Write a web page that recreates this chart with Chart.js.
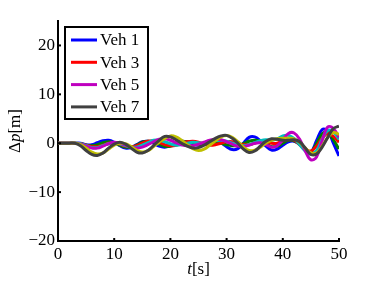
<!DOCTYPE html>
<html>
<head>
<meta charset="utf-8">
<script src="https://cdn.jsdelivr.net/npm/chart.js@4"></script>
<style>
  html, body { margin: 0; padding: 0; background: #fff; }
  #wrap { width: 374px; height: 281px; }
</style>
</head>
<body>
<div id="wrap"><canvas id="spacing"></canvas></div>
<script>
// time stamps [s]
const times = [0,1,2,3,4,5,6,7,8,9,10,11,12,13,14,15,16,17,18,19,20,21,22,23,24,25,
  26,27,28,29,30,31,32,33,34,35,36,37,38,39,40,41,42,43,44,45,46,47,48,49,50];

// spacing error per vehicle [m]
const veh1 = [0,0,0,0,0,-0.3,-0.3,0.1,0.5,0.6,0.2,-0.5,-1.0,-0.9,-0.3,0.3,0.4,0,-0.6,-0.8,
  -0.5,0,0.4,0.3,-0.1,-0.4,0,0.5,0.6,0.1,-0.7,-1.3,-1.1,0,1.2,1.3,0.5,-0.6,-1.4,-1.2,
  -0.4,0.3,0.4,-0.2,-1.2,-1.8,0.5,2.8,2.5,0,-2.6];
const veh2 = [0,0,0,0,-0.1,-0.4,-0.5,-0.3,0.1,0.3,0.1,-0.4,-0.8,-0.8,-0.4,0.2,0.4,0.3,-0.2,-0.6,
  -0.6,-0.2,0.2,0.3,0.1,-0.2,-0.1,0.1,0.2,0,-0.3,-0.5,-0.5,-0.1,0.4,0.6,0.4,-0.1,-0.7,-0.6,
  0,0.6,0.5,-0.2,-1.2,-1.7,-0.1,1.9,2.3,0.7,-1.2];
const veh3 = [0,0,0,0,-0.1,-0.4,-0.7,-0.7,-0.4,0,0.1,-0.2,-0.6,-0.7,-0.5,0,0.4,0.5,0.2,-0.3,
  -0.5,-0.4,0,0.3,0.4,0.2,-0.2,-0.4,-0.3,0,0.3,0.3,0,-0.3,-0.3,0,0.3,0.3,0,0,
  0.5,0.9,0.6,-0.3,-1.3,-1.6,-0.6,1.0,2.0,1.4,0.2];
const veh4 = [0,0,0,0,-0.1,-0.5,-0.9,-0.9,-0.5,-0.1,0.1,-0.1,-0.5,-0.8,-0.8,-0.4,0.1,0.6,0.6,0.3,
  -0.1,-0.4,-0.3,0,0.2,0.1,0,0.2,0.5,0.6,0.4,0,-0.4,-0.5,-0.3,0.1,0.5,0.7,0.6,0.9,
  1.5,1.6,1.0,-0.3,-1.6,-2.3,-1.5,0.8,2.6,2.3,0.8];
const veh5 = [0,0,0,0,-0.2,-0.6,-1.0,-1.0,-0.6,-0.1,0.2,0,-0.4,-0.8,-1.0,-0.8,-0.3,0.3,0.8,0.9,
  0.6,0.1,-0.3,-0.5,-0.5,-0.2,0.2,0.6,0.8,0.7,0.3,-0.2,-0.6,-0.7,-0.4,0,0.1,-0.3,-0.8,-0.5,
  0.7,2.0,2.1,0.8,-1.6,-3.4,-2.8,0.5,3.3,3.0,1.2];
const veh6 = [0,0,0,0,-0.3,-1.0,-1.8,-2.2,-2.0,-1.2,-0.4,0,-0.1,-0.7,-1.4,-1.8,-1.5,-0.7,0.2,1.0,
  1.5,1.3,0.6,-0.3,-1.1,-1.5,-1.2,-0.4,0.5,1.3,1.6,1.2,0.3,-0.8,-1.5,-1.4,-0.8,0,0.6,0.9,
  1.0,1.0,0.9,0.2,-1.0,-2.0,-2.0,-0.6,1.2,2.2,1.8];
const veh7 = [0,0,0,0,-0.5,-1.5,-2.3,-2.5,-2.0,-1.0,-0.2,0.2,-0.2,-1.0,-1.8,-2.0,-1.5,-0.5,0.6,1.4,
  1.3,0.7,0,-0.6,-1.0,-0.9,-0.4,0.3,1.0,1.5,1.6,1.0,0,-1.2,-1.9,-1.6,-0.6,0.4,0.9,0.8,
  0.6,0.6,0.7,0.3,-1.0,-2.3,-2.2,-0.8,1.2,3.0,3.5];

const seriesNames = ['Veh 1', 'Veh 2', 'Veh 3', 'Veh 4', 'Veh 5', 'Veh 6', 'Veh 7'];
const seriesData = [veh1, veh2, veh3, veh4, veh5, veh6, veh7];
const legendNames = ['Veh 1', 'Veh 3', 'Veh 5', 'Veh 7'];

const xTicks = [0, 10, 20, 30, 40, 50];
const yTicks = [-20, -10, 0, 10, 20];

// matlab default line order
const colors = ['#0000ff', '#008000', '#ff0000', '#00bfbf', '#bf00bf', '#bfbf00', '#404040'];
const FONT = '"Liberation Serif", "DejaVu Serif", serif';

const datasets = seriesData.map((vals, i) => ({
  label: seriesNames[i],
  data: vals.map((v, k) => ({ x: times[k], y: v })),
  borderColor: colors[i],
  borderWidth: 3,
  pointRadius: 0,
  tension: 0.4,
  fill: false,
  order: seriesData.length - i   // later vehicles drawn on top
}));

// inward ticks, axis titles with italic symbols, legend inside the axes
const decorations = {
  id: 'decorations',
  afterDraw(chart) {
    const ctx = chart.ctx;
    const area = chart.chartArea;
    const xs = chart.scales.x, ys = chart.scales.y;
    ctx.save();
    ctx.strokeStyle = '#000';
    ctx.lineWidth = 2;
    xTicks.forEach(t => {
      const px = xs.getPixelForValue(t);
      ctx.beginPath();
      ctx.moveTo(px, area.bottom);
      ctx.lineTo(px, area.bottom - 3);
      ctx.stroke();
    });
    yTicks.forEach(t => {
      const py = ys.getPixelForValue(t);
      ctx.beginPath();
      ctx.moveTo(area.left, py);
      ctx.lineTo(area.left + 3, py);
      ctx.stroke();
    });

    // axis titles
    ctx.fillStyle = '#000';
    ctx.textBaseline = 'alphabetic';
    const drawParts = (parts, cx, cy) => {
      let w = 0;
      parts.forEach(p => { ctx.font = p[1] + ' 17px ' + FONT; w += ctx.measureText(p[0]).width; });
      let x = cx - w / 2;
      parts.forEach(p => {
        ctx.font = p[1] + ' 17px ' + FONT;
        ctx.fillText(p[0], x, cy);
        x += ctx.measureText(p[0]).width;
      });
    };
    drawParts([['t', 'italic'], ['[s]', 'normal']], (area.left + area.right) / 2, 274);
    ctx.save();
    ctx.translate(20, (area.top + area.bottom) / 2);
    ctx.rotate(-Math.PI / 2);
    drawParts([['\u0394', 'normal'], ['p', 'italic'], ['[m]', 'normal']], 0, 0);
    ctx.restore();

    // legend box
    ctx.fillStyle = '#fff';
    ctx.fillRect(65, 27, 83, 92);
    ctx.lineWidth = 2;
    ctx.strokeRect(65, 27, 83, 92);
    ctx.font = '17px ' + FONT;
    ctx.textBaseline = 'middle';
    legendNames.forEach((name, i) => {
      const ds = chart.data.datasets.find(d => d.label === name);
      const y = 40 + i * 22.3;
      ctx.strokeStyle = ds.borderColor;
      ctx.lineWidth = 3;
      ctx.beginPath();
      ctx.moveTo(71, y);
      ctx.lineTo(97, y);
      ctx.stroke();
      ctx.fillStyle = '#000';
      ctx.fillText(name, 100, y + 1);
    });
    ctx.restore();
  }
};

new Chart(document.getElementById('spacing'), {
  type: 'line',
  data: { datasets },
  options: {
    responsive: true,
    maintainAspectRatio: false,
    animation: false,
    layout: { padding: { top: 21, right: 35, left: 0, bottom: 0 } },
    plugins: { legend: { display: false }, tooltip: { enabled: false } },
    scales: {
      x: {
        type: 'linear',
        min: 0, max: 50,
        afterFit: s => { s.height = 40; },
        afterBuildTicks: s => { s.ticks = xTicks.map(v => ({ value: v })); },
        grid: { display: false, drawTicks: false },
        border: { display: true, color: '#000', width: 2 },
        ticks: { color: '#000', padding: 3, font: { family: FONT, size: 17 } }
      },
      y: {
        type: 'linear',
        min: -20, max: 25,
        afterFit: s => { s.width = 58; },
        afterBuildTicks: s => { s.ticks = yTicks.map(v => ({ value: v })); },
        grid: { display: false, drawTicks: false },
        border: { display: true, color: '#000', width: 2 },
        ticks: {
          color: '#000', padding: 3, font: { family: FONT, size: 17 },
          callback: v => String(v).replace('-', '\u2212')
        }
      }
    }
  },
  plugins: [decorations]
});
</script>
</body>
</html>
